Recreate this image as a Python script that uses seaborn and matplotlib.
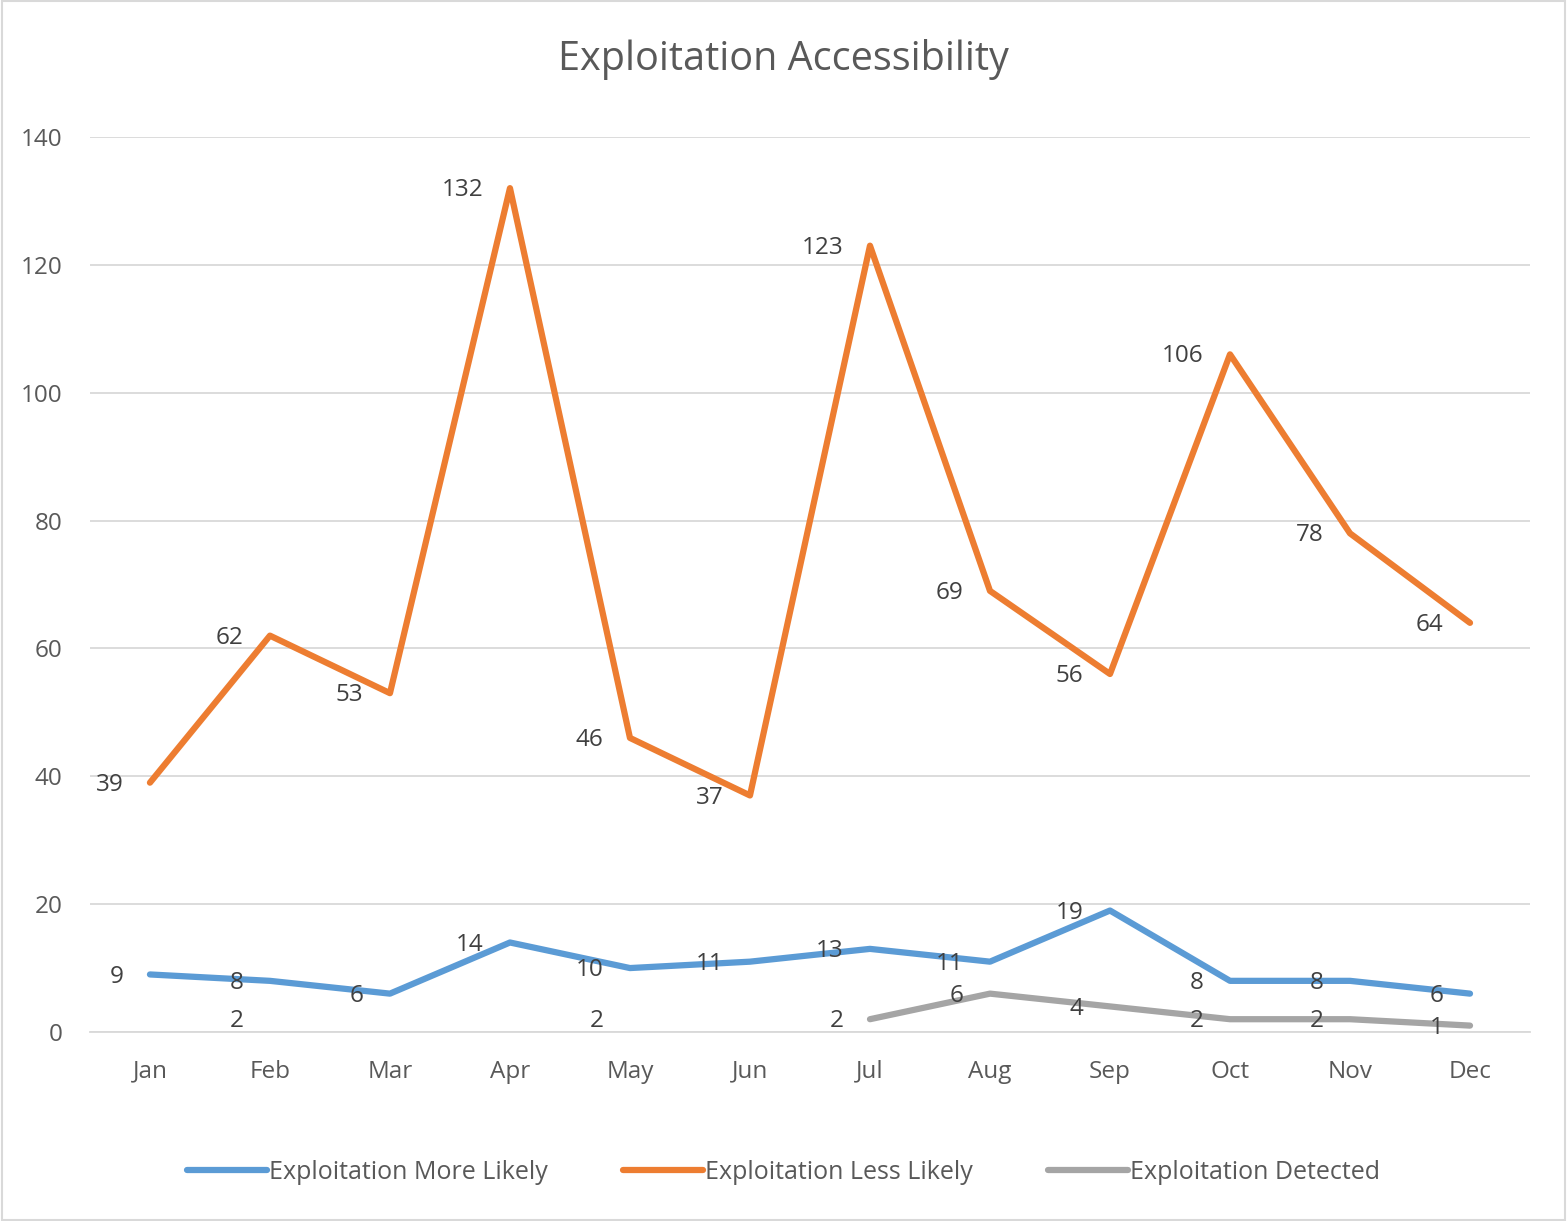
import numpy as np
import pandas as pd
import matplotlib
matplotlib.use('Agg')
import matplotlib.pyplot as plt
from matplotlib.lines import Line2D
from matplotlib.patches import Rectangle
import seaborn as sns

months = ['Jan', 'Feb', 'Mar', 'Apr', 'May', 'Jun', 'Jul', 'Aug', 'Sep', 'Oct', 'Nov', 'Dec']
more_likely = [9, 8, 6, 14, 10, 11, 13, 11, 19, 8, 8, 6]
less_likely = [39, 62, 53, 132, 46, 37, 123, 69, 56, 106, 78, 64]
detected = [np.nan, 2, np.nan, np.nan, 2, np.nan, 2, 6, 4, 2, 2, 1]

series_names = ['Exploitation More Likely', 'Exploitation Less Likely', 'Exploitation Detected']
colors = ['#5B9BD5', '#ED7D31', '#A5A5A5']

sns.set_style('white')
plt.rcParams['font.family'] = ['Open Sans', 'DejaVu Sans']

fig = plt.figure(figsize=(15.67, 12.21), dpi=100)
ax = fig.add_axes([0.0574, 0.1548, 0.919, 0.733])

x = np.arange(len(months))
for name, vals, col in zip(series_names, [more_likely, less_likely, detected], colors):
    df = pd.DataFrame({'x': x, 'y': vals})
    # split into contiguous runs so missing months leave gaps
    run_id = df['y'].isna().cumsum()
    for _, seg in df.dropna().groupby(run_id[df['y'].notna()]):
        if len(seg) > 1:
            sns.lineplot(data=seg, x='x', y='y', ax=ax, color=col, linewidth=4.5,
                         solid_capstyle='round', solid_joinstyle='round', legend=False)
    # data labels to the left of each point
    for xi, v in zip(x, vals):
        if not np.isnan(v):
            ax.annotate(f'{int(v)}', (xi, v), xytext=(-19, -1.5), textcoords='offset points',
                        ha='right', va='center', fontsize=17.5, color='#404040')

ax.set_xlim(-0.5, 11.5)
ax.set_ylim(0, 140)
ax.set_yticks(range(0, 141, 20))
ax.set_xticks(x)
ax.set_xticklabels(months)
ax.set_xlabel('')
ax.set_ylabel('')
ax.grid(axis='y', color='#D9D9D9', linewidth=1.3)
ax.set_axisbelow(True)
for s in ['top', 'right', 'left']:
    ax.spines[s].set_visible(False)
ax.spines['bottom'].set_color('#D9D9D9')
ax.spines['bottom'].set_linewidth(1.3)
ax.tick_params(axis='both', length=0, labelsize=17.5, labelcolor='#595959')
ax.tick_params(axis='y', pad=20)
ax.tick_params(axis='x', pad=20)

fig.suptitle('Exploitation Accessibility', x=0.5, y=0.968, fontsize=28.5, color='#595959')

handles = [Line2D([0], [0], color=c, linewidth=4.5, solid_capstyle='round') for c in colors]
fig.legend(handles, series_names, loc='center', bbox_to_anchor=(0.5, 0.04), ncol=3,
           frameon=False, fontsize=18, labelcolor='#595959', handlelength=3.2,
           handletextpad=0.1, columnspacing=3.0)

fig.patches.append(Rectangle((0.001, 0.001), 0.998, 0.998, transform=fig.transFigure,
                             fill=False, edgecolor='#D9D9D9', linewidth=1.5))

fig.savefig('out.png', dpi=100)
